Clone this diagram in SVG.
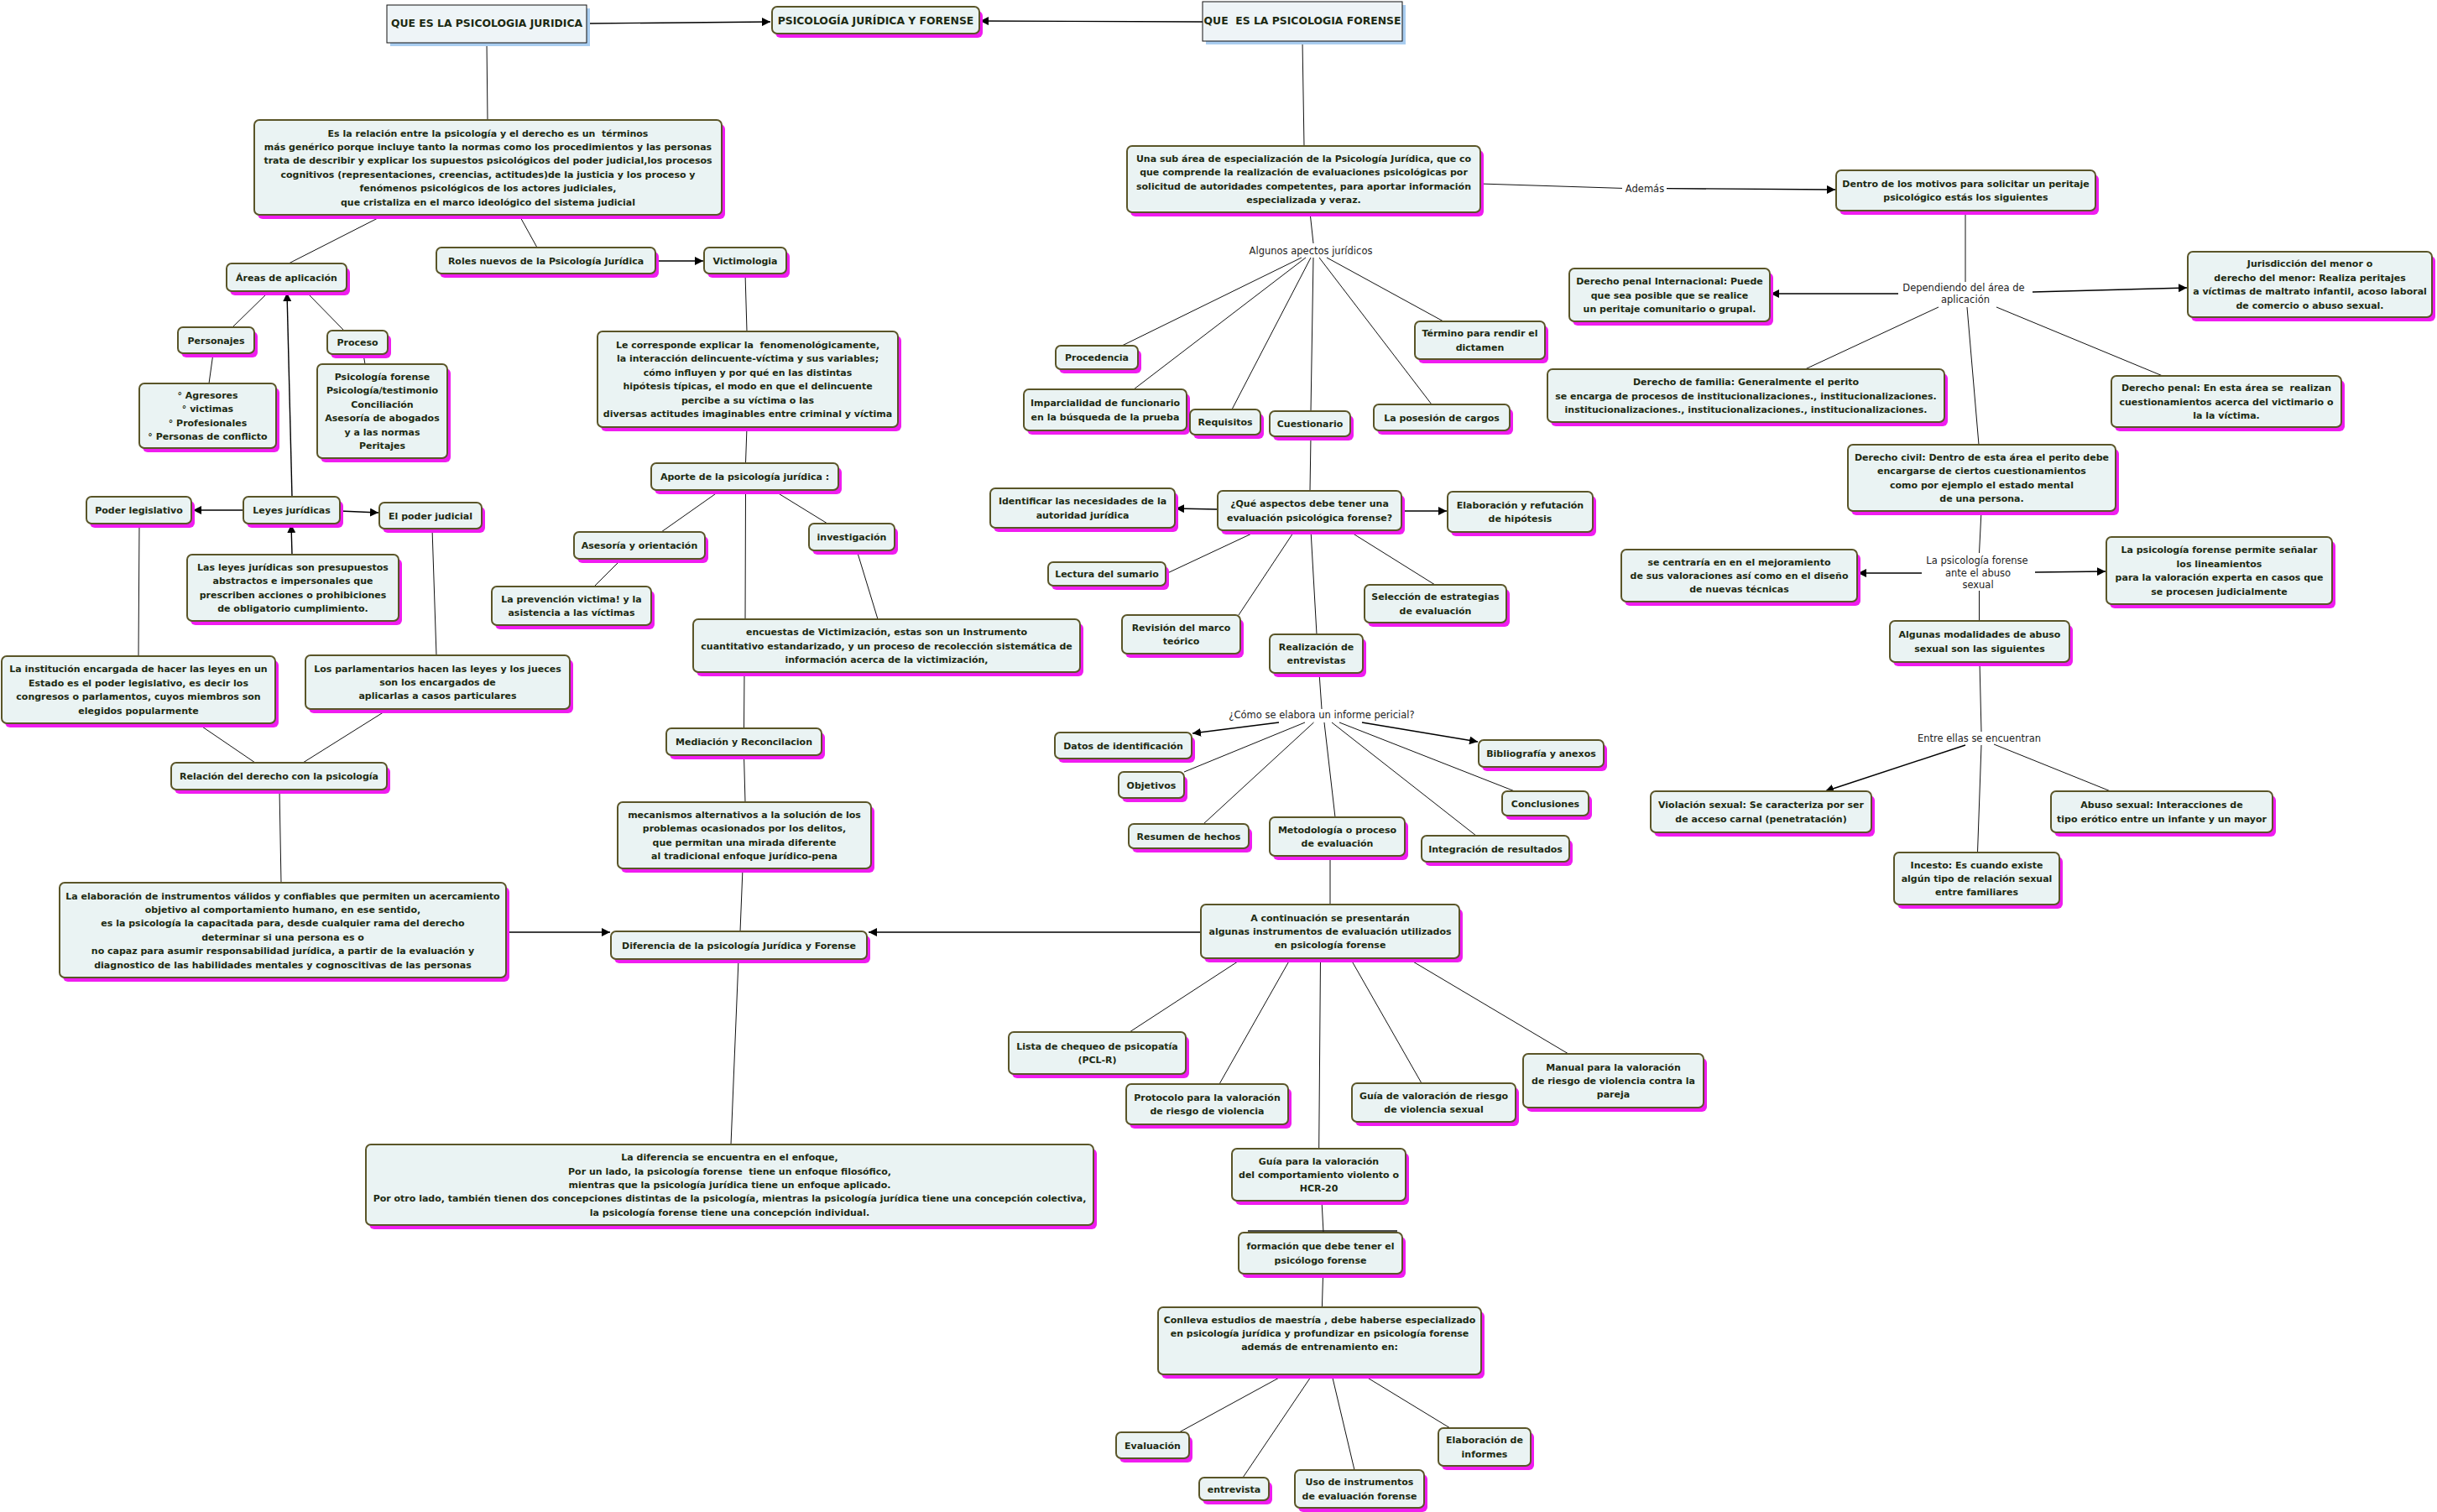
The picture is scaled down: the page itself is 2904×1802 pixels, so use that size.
<svg xmlns="http://www.w3.org/2000/svg" width="2904" height="1802" viewBox="0 0 2904 1802">
<style>
.nd{fill:#eaf3f3;stroke:#5a5528;stroke-width:2}
.sh{fill:#f01cf0}
.tb{fill:#eef4f7;stroke:#111;stroke-width:1}
.tbs{fill:#a9cdf0}
.t{font-family:"DejaVu Sans",Verdana,sans-serif;font-weight:bold;font-size:11px;fill:#1c2a12;text-anchor:middle}
.tt{font-size:12.4px}
.lb{font-family:"DejaVu Sans",Verdana,sans-serif;font-size:11.5px;fill:#222;text-anchor:middle}
.c{stroke:#111;stroke-width:1;fill:none}
.a{stroke:#000;stroke-width:1.4;fill:none;marker-end:url(#ah)}
</style>
<defs>
<marker id="ah" markerUnits="userSpaceOnUse" markerWidth="12" markerHeight="10" refX="10" refY="5" orient="auto"><path d="M0,0 L10,5 L0,10 Z" fill="#000"/></marker>
</defs>
<rect x="0" y="0" width="2904" height="1802" fill="#ffffff"/>
<g id="connectors">
<path class="a" d="M700,28 L918,26"/>
<path class="c" d="M580,51 L581,143"/>
<path class="c" d="M456,257 L344,314"/>
<path class="c" d="M619,257 L640,295"/>
<path class="a" d="M782,311 L838,311"/>
<path class="c" d="M320,348 L277,390"/>
<path class="c" d="M365,348 L410,394"/>
<path class="c" d="M254,421 L249,457"/>
<path class="c" d="M433,422 L435,434"/>
<path class="a" d="M348,592 L342,349"/>
<path class="a" d="M290,608 L230,608"/>
<path class="a" d="M405,609 L451,611"/>
<path class="a" d="M348,661 L347,625"/>
<path class="c" d="M166,624 L165,782"/>
<path class="c" d="M515,630 L520,781"/>
<path class="c" d="M235,862 L304,909"/>
<path class="c" d="M463,845 L361,909"/>
<path class="c" d="M333,941 L335,1052"/>
<path class="a" d="M603,1111 L727,1111"/>
<path class="c" d="M888,326 L890,395"/>
<path class="c" d="M890,509 L888.5,552"/>
<path class="c" d="M859,584 L788,634"/>
<path class="c" d="M741,666 L708,699"/>
<path class="c" d="M921,584 L986,624"/>
<path class="c" d="M888.5,584 L888,738"/>
<path class="c" d="M1021,656 L1046,738"/>
<path class="c" d="M887,801 L886.5,868"/>
<path class="c" d="M886.5,900 L888,956"/>
<path class="c" d="M885,1035 L882,1110"/>
<path class="c" d="M880,1143 L871,1364"/>
<path class="a" d="M1433,26 L1168,25"/>
<path class="c" d="M1552,49 L1554,174"/>
<path class="c" d="M1561,253 L1565,290"/>
<path class="c" d="M1551,307 L1337,412"/>
<path class="c" d="M1556,307 L1351,464"/>
<path class="c" d="M1562,307 L1468,488"/>
<path class="c" d="M1565,307 L1562,490"/>
<path class="c" d="M1572,307 L1706,482"/>
<path class="c" d="M1581,307 L1720,383"/>
<path class="c" d="M1562,520 L1561,585"/>
<path class="a" d="M1451,607 L1401,606"/>
<path class="a" d="M1670,609 L1724,609"/>
<path class="c" d="M1500,632 L1389,684"/>
<path class="c" d="M1543,632 L1476,733"/>
<path class="c" d="M1562,632 L1569,756"/>
<path class="c" d="M1606,632 L1710,697"/>
<path class="c" d="M1572,802 L1575,845"/>
<path class="a" d="M1524,861 L1421,874"/>
<path class="c" d="M1555,861 L1411,920"/>
<path class="c" d="M1565.5,861 L1434,982"/>
<path class="c" d="M1578,861 L1591,974"/>
<path class="c" d="M1587,861 L1759,996"/>
<path class="c" d="M1596,861 L1805,943"/>
<path class="a" d="M1623,861 L1761,884"/>
<path class="c" d="M1585,1020 L1585,1078"/>
<path class="a" d="M1431,1111 L1035,1111"/>
<path class="c" d="M1481,1142 L1346,1230"/>
<path class="c" d="M1538,1142 L1453,1292"/>
<path class="c" d="M1573.5,1142 L1571.7,1369"/>
<path class="c" d="M1609,1142 L1694,1291"/>
<path class="c" d="M1677,1142 L1869,1256"/>
<path class="c" d="M1575,1431 L1577,1469"/>
<path class="c" d="M1576.6,1518 L1575.4,1558"/>
<path class="c" d="M1531.5,1638 L1405,1707"/>
<path class="c" d="M1564,1638 L1481,1761"/>
<path class="c" d="M1587,1638 L1614,1752"/>
<path class="c" d="M1623,1638 L1728,1702"/>
<path class="c" d="M1764,219 L1933,224.4"/>
<path class="a" d="M1986,224.6 L2187,226"/>
<path class="c" d="M2342,251 L2342,336"/>
<path class="a" d="M2422,348 L2606,343"/>
<path class="a" d="M2262,350 L2110,350"/>
<path class="c" d="M2310,366 L2151,440"/>
<path class="c" d="M2344,366 L2358,530"/>
<path class="c" d="M2379,366 L2577,448"/>
<path class="c" d="M2361,609 L2358.5,659"/>
<path class="a" d="M2290,683 L2214,683"/>
<path class="a" d="M2425,682 L2509,681"/>
<path class="c" d="M2358.5,704 L2358.5,740"/>
<path class="c" d="M2359,789 L2361,872"/>
<path class="a" d="M2342,888 L2175,943"/>
<path class="c" d="M2376,887 L2515,943"/>
<path class="c" d="M2361,888 L2356.5,1016"/>
</g>
<g id="labels">
<text class="lb" x="1562" y="302.5">Algunos apectos jurídicos</text>
<text class="lb" x="1960" y="228.6">Además</text>
<text class="lb" x="2340" y="347">Dependiendo del área de</text>
<text class="lb" x="2342" y="361">aplicación</text>
<text class="lb" x="1575" y="855.5">¿Cómo se elabora un informe pericial?</text>
<text class="lb" x="2356" y="672">La psicología forense</text>
<text class="lb" x="2357" y="686.6">ante el abuso</text>
<text class="lb" x="2357" y="701">sexual</text>
<text class="lb" x="2358.5" y="884">Entre ellas se encuentran</text>
</g>
<g id="n-title-j"><rect class="tbs" x="465" y="10" width="238" height="45"/><rect class="tb" x="461" y="6" width="238" height="45"/><text class="t tt" x="580" y="31.5">QUE ES LA PSICOLOGIA JURIDICA</text></g>
<g id="n-central"><rect class="sh" x="924" y="13" width="247" height="32" rx="6"/><rect class="nd" x="920" y="8" width="247" height="32" rx="6"/><text class="t tt" x="1043.5" y="28.5">PSICOLOGÍA JURÍDICA Y FORENSE</text></g>
<g id="n-title-f"><rect class="tbs" x="1437" y="6" width="238" height="47"/><rect class="tb" x="1433" y="2" width="238" height="47"/><text class="t tt" x="1552" y="28.5" xml:space="preserve">QUE  ES LA PSICOLOGIA FORENSE</text></g>
<g id="n-def-j"><rect class="sh" x="307" y="148" width="557" height="113" rx="6"/><rect class="nd" x="303" y="143" width="557" height="113" rx="6"/><text class="t" y="162.5" xml:space="preserve"><tspan x="581.5">Es la relación entre la psicología y el derecho es un  términos</tspan><tspan x="581.5" dy="16.4">más genérico porque incluye tanto la normas como los procedimientos y las personas</tspan><tspan x="581.5" dy="16.4">trata de describir y explicar los supuestos psicológicos del poder judicial,los procesos</tspan><tspan x="581.5" dy="16.4">cognitivos (representaciones, creencias, actitudes)de la justicia y los proceso y</tspan><tspan x="581.5" dy="16.4">fenómenos psicológicos de los actores judiciales,</tspan><tspan x="581.5" dy="16.4">que cristaliza en el marco ideológico del sistema judicial</tspan></text></g>
<g id="n-areas"><rect class="sh" x="274" y="319" width="143" height="33" rx="6"/><rect class="nd" x="270" y="314" width="143" height="33" rx="6"/><text class="t" x="341.5" y="334.5">Áreas de aplicación</text></g>
<g id="n-roles"><rect class="sh" x="524" y="300" width="261" height="31" rx="6"/><rect class="nd" x="520" y="295" width="261" height="31" rx="6"/><text class="t" x="650.5" y="314.5">Roles nuevos de la Psicología Jurídica</text></g>
<g id="n-victimologia"><rect class="sh" x="843" y="300" width="98" height="31" rx="6"/><rect class="nd" x="839" y="295" width="98" height="31" rx="6"/><text class="t" x="888" y="314.5">Victimologia</text></g>
<g id="n-personajes"><rect class="sh" x="216" y="395" width="91" height="31" rx="6"/><rect class="nd" x="212" y="390" width="91" height="31" rx="6"/><text class="t" x="257.5" y="409.5">Personajes</text></g>
<g id="n-proceso"><rect class="sh" x="394" y="399" width="72" height="28" rx="6"/><rect class="nd" x="390" y="394" width="72" height="28" rx="6"/><text class="t" x="426" y="412">Proceso</text></g>
<g id="n-personas"><rect class="sh" x="170" y="462" width="163" height="77" rx="6"/><rect class="nd" x="166" y="457" width="163" height="77" rx="6"/><text class="t" y="474.9"><tspan x="247.5">° Agresores</tspan><tspan x="247.5" dy="16.4">° victimas</tspan><tspan x="247.5" dy="16.4">° Profesionales</tspan><tspan x="247.5" dy="16.4">° Personas de conflicto</tspan></text></g>
<g id="n-proc-list"><rect class="sh" x="382" y="439" width="155" height="112" rx="6"/><rect class="nd" x="378" y="434" width="155" height="112" rx="6"/><text class="t" y="453"><tspan x="455.5">Psicología forense</tspan><tspan x="455.5" dy="16.4">Psicología/testimonio</tspan><tspan x="455.5" dy="16.4">Conciliación</tspan><tspan x="455.5" dy="16.4">Asesoría de abogados</tspan><tspan x="455.5" dy="16.4">y a las normas</tspan><tspan x="455.5" dy="16.4">Peritajes</tspan></text></g>
<g id="n-poder-leg"><rect class="sh" x="107" y="597" width="125" height="32" rx="6"/><rect class="nd" x="103" y="592" width="125" height="32" rx="6"/><text class="t" x="165.5" y="612">Poder legislativo</text></g>
<g id="n-leyes"><rect class="sh" x="294" y="597" width="115" height="32" rx="6"/><rect class="nd" x="290" y="592" width="115" height="32" rx="6"/><text class="t" x="347.5" y="612">Leyes jurídicas</text></g>
<g id="n-poder-jud"><rect class="sh" x="456" y="604" width="122" height="31" rx="6"/><rect class="nd" x="452" y="599" width="122" height="31" rx="6"/><text class="t" x="513" y="618.5">El poder judicial</text></g>
<g id="n-las-leyes"><rect class="sh" x="227" y="666" width="252" height="79" rx="6"/><rect class="nd" x="223" y="661" width="252" height="79" rx="6"/><text class="t" y="679.9"><tspan x="349">Las leyes jurídicas son presupuestos</tspan><tspan x="349" dy="16.4">abstractos e impersonales que</tspan><tspan x="349" dy="16.4">prescriben acciones o prohibiciones</tspan><tspan x="349" dy="16.4">de obligatorio cumplimiento.</tspan></text></g>
<g id="n-institucion"><rect class="sh" x="6" y="787" width="326" height="80" rx="6"/><rect class="nd" x="2" y="782" width="326" height="80" rx="6"/><text class="t" y="801.4"><tspan x="165">La institución encargada de hacer las leyes en un</tspan><tspan x="165" dy="16.4">Estado es el poder legislativo, es decir los</tspan><tspan x="165" dy="16.4">congresos o parlamentos, cuyos miembros son</tspan><tspan x="165" dy="16.4">elegidos popularmente</tspan></text></g>
<g id="n-parlamentarios"><rect class="sh" x="368" y="786" width="315" height="64" rx="6"/><rect class="nd" x="364" y="781" width="315" height="64" rx="6"/><text class="t" y="800.6"><tspan x="521.5">Los parlamentarios hacen las leyes y los jueces</tspan><tspan x="521.5" dy="16.4">son los encargados de</tspan><tspan x="521.5" dy="16.4">aplicarlas a casos particulares</tspan></text></g>
<g id="n-relacion"><rect class="sh" x="208" y="914" width="257" height="32" rx="6"/><rect class="nd" x="204" y="909" width="257" height="32" rx="6"/><text class="t" x="332.5" y="929">Relación del derecho con la psicología</text></g>
<g id="n-elaboracion-j"><rect class="sh" x="75" y="1057" width="532" height="113" rx="6"/><rect class="nd" x="71" y="1052" width="532" height="113" rx="6"/><text class="t" y="1071.5"><tspan x="337">La elaboración de instrumentos válidos y confiables que permiten un acercamiento</tspan><tspan x="337" dy="16.4">objetivo al comportamiento humano, en ese sentido,</tspan><tspan x="337" dy="16.4">es la psicología la capacitada para, desde cualquier rama del derecho</tspan><tspan x="337" dy="16.4">determinar si una persona es o</tspan><tspan x="337" dy="16.4">no capaz para asumir responsabilidad jurídica, a partir de la evaluación y</tspan><tspan x="337" dy="16.4">diagnostico de las habilidades mentales y cognoscitivas de las personas</tspan></text></g>
<g id="n-le-corresponde"><rect class="sh" x="716" y="400" width="358" height="114" rx="6"/><rect class="nd" x="712" y="395" width="358" height="114" rx="6"/><text class="t" y="415" xml:space="preserve"><tspan x="891">Le corresponde explicar la  fenomenológicamente,</tspan><tspan x="891" dy="16.4">la interacción delincuente-víctima y sus variables;</tspan><tspan x="891" dy="16.4">cómo influyen y por qué en las distintas</tspan><tspan x="891" dy="16.4">hipótesis típicas, el modo en que el delincuente</tspan><tspan x="891" dy="16.4">percibe a su víctima o las</tspan><tspan x="891" dy="16.4">diversas actitudes imaginables entre criminal y víctima</tspan></text></g>
<g id="n-aporte"><rect class="sh" x="780" y="557" width="223" height="32" rx="6"/><rect class="nd" x="776" y="552" width="223" height="32" rx="6"/><text class="t" x="887.5" y="572">Aporte de la psicología jurídica :</text></g>
<g id="n-asesoria"><rect class="sh" x="688" y="639" width="156" height="32" rx="6"/><rect class="nd" x="684" y="634" width="156" height="32" rx="6"/><text class="t" x="762" y="654">Asesoría y orientación</text></g>
<g id="n-prevencion"><rect class="sh" x="590" y="704" width="190" height="46" rx="6"/><rect class="nd" x="586" y="699" width="190" height="46" rx="6"/><text class="t" y="717.8"><tspan x="681">La prevención victima! y la</tspan><tspan x="681" dy="16.4">asistencia a las víctimas</tspan></text></g>
<g id="n-investigacion"><rect class="sh" x="968" y="629" width="102" height="32" rx="6"/><rect class="nd" x="964" y="624" width="102" height="32" rx="6"/><text class="t" x="1015" y="644">investigación</text></g>
<g id="n-encuestas"><rect class="sh" x="830" y="743" width="461" height="63" rx="6"/><rect class="nd" x="826" y="738" width="461" height="63" rx="6"/><text class="t" y="757.1"><tspan x="1056.5">encuestas de Victimización, estas son un Instrumento</tspan><tspan x="1056.5" dy="16.4">cuantitativo estandarizado, y un proceso de recolección sistemática de</tspan><tspan x="1056.5" dy="16.4">información acerca de la victimización,</tspan></text></g>
<g id="n-mediacion"><rect class="sh" x="798" y="873" width="185" height="32" rx="6"/><rect class="nd" x="794" y="868" width="185" height="32" rx="6"/><text class="t" x="886.5" y="888">Mediación y Reconcilacion</text></g>
<g id="n-mecanismos"><rect class="sh" x="740" y="961" width="302" height="79" rx="6"/><rect class="nd" x="736" y="956" width="302" height="79" rx="6"/><text class="t" y="974.9"><tspan x="887">mecanismos alternativos a la solución de los</tspan><tspan x="887" dy="16.4">problemas ocasionados por los delitos,</tspan><tspan x="887" dy="16.4">que permitan una mirada diferente</tspan><tspan x="887" dy="16.4">al tradicional enfoque jurídico-pena</tspan></text></g>
<g id="n-diferencia"><rect class="sh" x="732" y="1115" width="305" height="33" rx="6"/><rect class="nd" x="728" y="1110" width="305" height="33" rx="6"/><text class="t" x="880.5" y="1130.5">Diferencia de la psicología Jurídica y Forense</text></g>
<g id="n-la-diferencia"><rect class="sh" x="440" y="1369" width="867" height="96" rx="6"/><rect class="nd" x="436" y="1364" width="867" height="96" rx="6"/><text class="t" y="1383.2" xml:space="preserve"><tspan x="869.5">La diferencia se encuentra en el enfoque,</tspan><tspan x="869.5" dy="16.4">Por un lado, la psicología forense  tiene un enfoque filosófico,</tspan><tspan x="869.5" dy="16.4">mientras que la psicología jurídica tiene un enfoque aplicado.</tspan><tspan x="869.5" dy="16.4">Por otro lado, también tienen dos concepciones distintas de la psicología, mientras la psicología jurídica tiene una concepción colectiva,</tspan><tspan x="869.5" dy="16.4">la psicología forense tiene una concepción individual.</tspan></text></g>
<g id="n-def-f"><rect class="sh" x="1347" y="179" width="421" height="79" rx="6"/><rect class="nd" x="1343" y="174" width="421" height="79" rx="6"/><text class="t" y="192.9"><tspan x="1553.5">Una sub área de especialización de la Psicología Jurídica, que co</tspan><tspan x="1553.5" dy="16.4">que comprende la realización de evaluaciones psicológicas por</tspan><tspan x="1553.5" dy="16.4">solicitud de autoridades competentes, para aportar información</tspan><tspan x="1553.5" dy="16.4">especializada y veraz.</tspan></text></g>
<g id="n-procedencia"><rect class="sh" x="1262" y="417" width="98" height="28" rx="6"/><rect class="nd" x="1258" y="412" width="98" height="28" rx="6"/><text class="t" x="1307" y="430">Procedencia</text></g>
<g id="n-imparcialidad"><rect class="sh" x="1224" y="469" width="194" height="49" rx="6"/><rect class="nd" x="1220" y="464" width="194" height="49" rx="6"/><text class="t" y="484.3"><tspan x="1317">Imparcialidad de funcionario</tspan><tspan x="1317" dy="16.4">en la búsqueda de la prueba</tspan></text></g>
<g id="n-requisitos"><rect class="sh" x="1422" y="493" width="84" height="30" rx="6"/><rect class="nd" x="1418" y="488" width="84" height="30" rx="6"/><text class="t" x="1460" y="507">Requisitos</text></g>
<g id="n-cuestionario"><rect class="sh" x="1517" y="495" width="96" height="30" rx="6"/><rect class="nd" x="1513" y="490" width="96" height="30" rx="6"/><text class="t" x="1561" y="509">Cuestionario</text></g>
<g id="n-posesion"><rect class="sh" x="1641" y="487" width="162" height="31" rx="6"/><rect class="nd" x="1637" y="482" width="162" height="31" rx="6"/><text class="t" x="1718" y="501.5">La posesión de cargos</text></g>
<g id="n-termino"><rect class="sh" x="1690" y="388" width="155" height="45" rx="6"/><rect class="nd" x="1686" y="383" width="155" height="45" rx="6"/><text class="t" y="401.3"><tspan x="1763.5">Término para rendir el</tspan><tspan x="1763.5" dy="16.4">dictamen</tspan></text></g>
<g id="n-que-aspectos"><rect class="sh" x="1455" y="590" width="219" height="47" rx="6"/><rect class="nd" x="1451" y="585" width="219" height="47" rx="6"/><text class="t" y="604.3"><tspan x="1560.5">¿Qué aspectos debe tener una</tspan><tspan x="1560.5" dy="16.4">evaluación psicológica forense?</tspan></text></g>
<g id="n-identificar"><rect class="sh" x="1184" y="587" width="220" height="47" rx="6"/><rect class="nd" x="1180" y="582" width="220" height="47" rx="6"/><text class="t" y="601.3"><tspan x="1290">Identificar las necesidades de la</tspan><tspan x="1290" dy="16.4">autoridad jurídica</tspan></text></g>
<g id="n-elab-hip"><rect class="sh" x="1729" y="591" width="173" height="48" rx="6"/><rect class="nd" x="1725" y="586" width="173" height="48" rx="6"/><text class="t" y="605.8"><tspan x="1811.5">Elaboración y refutación</tspan><tspan x="1811.5" dy="16.4">de hipótesis</tspan></text></g>
<g id="n-lectura"><rect class="sh" x="1253" y="675" width="140" height="28" rx="6"/><rect class="nd" x="1249" y="670" width="140" height="28" rx="6"/><text class="t" x="1319" y="688">Lectura del sumario</text></g>
<g id="n-revision"><rect class="sh" x="1341" y="738" width="141" height="46" rx="6"/><rect class="nd" x="1337" y="733" width="141" height="46" rx="6"/><text class="t" y="751.8"><tspan x="1407.5">Revisión del marco</tspan><tspan x="1407.5" dy="16.4">teórico</tspan></text></g>
<g id="n-realizacion"><rect class="sh" x="1517" y="761" width="111" height="46" rx="6"/><rect class="nd" x="1513" y="756" width="111" height="46" rx="6"/><text class="t" y="774.8"><tspan x="1568.5">Realización de</tspan><tspan x="1568.5" dy="16.4">entrevistas</tspan></text></g>
<g id="n-seleccion"><rect class="sh" x="1630" y="702" width="169" height="45" rx="6"/><rect class="nd" x="1626" y="697" width="169" height="45" rx="6"/><text class="t" y="715.3"><tspan x="1710.5">Selección de estrategias</tspan><tspan x="1710.5" dy="16.4">de evaluación</tspan></text></g>
<g id="n-datos"><rect class="sh" x="1261" y="878" width="163" height="31" rx="6"/><rect class="nd" x="1257" y="873" width="163" height="31" rx="6"/><text class="t" x="1338.5" y="892.5">Datos de identificación</text></g>
<g id="n-objetivos"><rect class="sh" x="1337" y="925" width="78" height="31" rx="6"/><rect class="nd" x="1333" y="920" width="78" height="31" rx="6"/><text class="t" x="1372" y="939.5">Objetivos</text></g>
<g id="n-resumen"><rect class="sh" x="1349" y="987" width="143" height="29" rx="6"/><rect class="nd" x="1345" y="982" width="143" height="29" rx="6"/><text class="t" x="1416.5" y="1000.5">Resumen de hechos</text></g>
<g id="n-metodologia"><rect class="sh" x="1517" y="979" width="161" height="46" rx="6"/><rect class="nd" x="1513" y="974" width="161" height="46" rx="6"/><text class="t" y="992.8"><tspan x="1593.5">Metodología o proceso</tspan><tspan x="1593.5" dy="16.4">de evaluación</tspan></text></g>
<g id="n-integracion"><rect class="sh" x="1698" y="1001" width="176" height="31" rx="6"/><rect class="nd" x="1694" y="996" width="176" height="31" rx="6"/><text class="t" x="1782" y="1015.5">Integración de resultados</text></g>
<g id="n-conclusiones"><rect class="sh" x="1794" y="948" width="103" height="29" rx="6"/><rect class="nd" x="1790" y="943" width="103" height="29" rx="6"/><text class="t" x="1841.5" y="961.5">Conclusiones</text></g>
<g id="n-bibliografia"><rect class="sh" x="1766" y="887" width="149" height="32" rx="6"/><rect class="nd" x="1762" y="882" width="149" height="32" rx="6"/><text class="t" x="1836.5" y="902">Bibliografía y anexos</text></g>
<g id="n-continuacion"><rect class="sh" x="1435" y="1083" width="308" height="64" rx="6"/><rect class="nd" x="1431" y="1078" width="308" height="64" rx="6"/><text class="t" y="1097.6"><tspan x="1585">A continuación se presentarán</tspan><tspan x="1585" dy="16.4">algunas instrumentos de evaluación utilizados</tspan><tspan x="1585" dy="16.4">en psicología forense</tspan></text></g>
<g id="n-lista"><rect class="sh" x="1206" y="1235" width="211" height="50" rx="6"/><rect class="nd" x="1202" y="1230" width="211" height="50" rx="6"/><text class="t" y="1250.8"><tspan x="1307.5">Lista de chequeo de psicopatía</tspan><tspan x="1307.5" dy="16.4">(PCL-R)</tspan></text></g>
<g id="n-protocolo"><rect class="sh" x="1346" y="1297" width="193" height="48" rx="6"/><rect class="nd" x="1342" y="1292" width="193" height="48" rx="6"/><text class="t" y="1311.8"><tspan x="1438.5">Protocolo para la valoración</tspan><tspan x="1438.5" dy="16.4">de riesgo de violencia</tspan></text></g>
<g id="n-guia-sexual"><rect class="sh" x="1615" y="1296" width="195" height="46" rx="6"/><rect class="nd" x="1611" y="1291" width="195" height="46" rx="6"/><text class="t" y="1309.8"><tspan x="1708.5">Guía de valoración de riesgo</tspan><tspan x="1708.5" dy="16.4">de violencia sexual</tspan></text></g>
<g id="n-manual"><rect class="sh" x="1819" y="1261" width="215" height="64" rx="6"/><rect class="nd" x="1815" y="1256" width="215" height="64" rx="6"/><text class="t" y="1275.6"><tspan x="1922.5">Manual para la valoración</tspan><tspan x="1922.5" dy="16.4">de riesgo de violencia contra la</tspan><tspan x="1922.5" dy="16.4">pareja</tspan></text></g>
<g id="n-hcr"><rect class="sh" x="1472" y="1374" width="207" height="62" rx="6"/><rect class="nd" x="1468" y="1369" width="207" height="62" rx="6"/><text class="t" y="1387.6"><tspan x="1571.5">Guía para la valoración</tspan><tspan x="1571.5" dy="16.4">del comportamiento violento o</tspan><tspan x="1571.5" dy="16.4">HCR-20</tspan></text></g>
<g id="n-formacion"><rect class="sh" x="1480" y="1474" width="195" height="49" rx="6"/><rect class="nd" x="1476" y="1469" width="195" height="49" rx="6"/><path d="M1487,1467 L1665,1467" stroke="#111" stroke-width="1.5"/><text class="t" y="1489.3"><tspan x="1573.5">formación que debe tener el</tspan><tspan x="1573.5" dy="16.4">psicólogo forense</tspan></text></g>
<g id="n-conlleva"><rect class="sh" x="1384" y="1563" width="385" height="80" rx="6"/><rect class="nd" x="1380" y="1558" width="385" height="80" rx="6"/><text class="t" y="1576.5"><tspan x="1572.5">Conlleva estudios de maestría , debe haberse especializado</tspan><tspan x="1572.5" dy="16.4">en psicología jurídica y profundizar en psicología forense</tspan><tspan x="1572.5" dy="16.4">además de entrenamiento en:</tspan></text></g>
<g id="n-evaluacion"><rect class="sh" x="1334" y="1712" width="87" height="31" rx="6"/><rect class="nd" x="1330" y="1707" width="87" height="31" rx="6"/><text class="t" x="1373.5" y="1726.5">Evaluación</text></g>
<g id="n-entrevista"><rect class="sh" x="1433" y="1766" width="83" height="27" rx="6"/><rect class="nd" x="1429" y="1761" width="83" height="27" rx="6"/><text class="t" x="1470.5" y="1778.5">entrevista</text></g>
<g id="n-uso"><rect class="sh" x="1547" y="1757" width="154" height="45" rx="6"/><rect class="nd" x="1543" y="1752" width="154" height="45" rx="6"/><text class="t" y="1770.3"><tspan x="1620">Uso de instrumentos</tspan><tspan x="1620" dy="16.4">de evaluación forense</tspan></text></g>
<g id="n-elab-inf"><rect class="sh" x="1718" y="1707" width="110" height="45" rx="6"/><rect class="nd" x="1714" y="1702" width="110" height="45" rx="6"/><text class="t" y="1720.3"><tspan x="1769">Elaboración de</tspan><tspan x="1769" dy="16.4">informes</tspan></text></g>
<g id="n-dentro"><rect class="sh" x="2192" y="208" width="309" height="48" rx="6"/><rect class="nd" x="2188" y="203" width="309" height="48" rx="6"/><text class="t" y="222.8"><tspan x="2342.5">Dentro de los motivos para solicitar un peritaje</tspan><tspan x="2342.5" dy="16.4">psicológico estás los siguientes</tspan></text></g>
<g id="n-jurisdiccion"><rect class="sh" x="2611" y="305" width="291" height="78" rx="6"/><rect class="nd" x="2607" y="300" width="291" height="78" rx="6"/><text class="t" y="318.4"><tspan x="2752.5">Jurisdicción del menor o</tspan><tspan x="2752.5" dy="16.4">derecho del menor: Realiza peritajes</tspan><tspan x="2752.5" dy="16.4">a víctimas de maltrato infantil, acoso laboral</tspan><tspan x="2752.5" dy="16.4">de comercio o abuso sexual.</tspan></text></g>
<g id="n-penal-int"><rect class="sh" x="1874" y="325" width="239" height="63" rx="6"/><rect class="nd" x="1870" y="320" width="239" height="63" rx="6"/><text class="t" y="339.1"><tspan x="1989.5">Derecho penal Internacional: Puede</tspan><tspan x="1989.5" dy="16.4">que sea posible que se realice</tspan><tspan x="1989.5" dy="16.4">un peritaje comunitario o grupal.</tspan></text></g>
<g id="n-familia"><rect class="sh" x="1848" y="445" width="473" height="63" rx="6"/><rect class="nd" x="1844" y="440" width="473" height="63" rx="6"/><text class="t" y="459.1"><tspan x="2080.5">Derecho de familia: Generalmente el perito</tspan><tspan x="2080.5" dy="16.4">se encarga de procesos de institucionalizaciones., institucionalizaciones.</tspan><tspan x="2080.5" dy="16.4">institucionalizaciones., institucionalizaciones., institucionalizaciones.</tspan></text></g>
<g id="n-civil"><rect class="sh" x="2206" y="535" width="319" height="79" rx="6"/><rect class="nd" x="2202" y="530" width="319" height="79" rx="6"/><text class="t" y="548.9"><tspan x="2361.5">Derecho civil: Dentro de esta área el perito debe</tspan><tspan x="2361.5" dy="16.4">encargarse de ciertos cuestionamientos</tspan><tspan x="2361.5" dy="16.4">como por ejemplo el estado mental</tspan><tspan x="2361.5" dy="16.4">de una persona.</tspan></text></g>
<g id="n-penal"><rect class="sh" x="2520" y="453" width="274" height="61" rx="6"/><rect class="nd" x="2516" y="448" width="274" height="61" rx="6"/><text class="t" y="466.1" xml:space="preserve"><tspan x="2653">Derecho penal: En esta área se  realizan</tspan><tspan x="2653" dy="16.4">cuestionamientos acerca del victimario o</tspan><tspan x="2653" dy="16.4">la la víctima.</tspan></text></g>
<g id="n-centraria"><rect class="sh" x="1936" y="660" width="281" height="62" rx="6"/><rect class="nd" x="1932" y="655" width="281" height="62" rx="6"/><text class="t" y="673.6"><tspan x="2072.5">se centraría en en el mejoramiento</tspan><tspan x="2072.5" dy="16.4">de sus valoraciones así como en el diseño</tspan><tspan x="2072.5" dy="16.4">de nuevas técnicas</tspan></text></g>
<g id="n-permite"><rect class="sh" x="2514" y="645" width="269" height="80" rx="6"/><rect class="nd" x="2510" y="640" width="269" height="80" rx="6"/><text class="t" y="659.4"><tspan x="2644.5">La psicología forense permite señalar</tspan><tspan x="2644.5" dy="16.4">los lineamientos</tspan><tspan x="2644.5" dy="16.4">para la valoración experta en casos que</tspan><tspan x="2644.5" dy="16.4">se procesen judicialmente</tspan></text></g>
<g id="n-modalidades"><rect class="sh" x="2256" y="745" width="214" height="49" rx="6"/><rect class="nd" x="2252" y="740" width="214" height="49" rx="6"/><text class="t" y="760.3"><tspan x="2359">Algunas modalidades de abuso</tspan><tspan x="2359" dy="16.4">sexual son las siguientes</tspan></text></g>
<g id="n-violacion"><rect class="sh" x="1971" y="948" width="263" height="49" rx="6"/><rect class="nd" x="1967" y="943" width="263" height="49" rx="6"/><text class="t" y="963.3"><tspan x="2098.5">Violación sexual: Se caracteriza por ser</tspan><tspan x="2098.5" dy="16.4">de acceso carnal (penetratación)</tspan></text></g>
<g id="n-abuso"><rect class="sh" x="2448" y="948" width="264" height="49" rx="6"/><rect class="nd" x="2444" y="943" width="264" height="49" rx="6"/><text class="t" y="963.3"><tspan x="2576">Abuso sexual: Interacciones de</tspan><tspan x="2576" dy="16.4">tipo erótico entre un infante y un mayor</tspan></text></g>
<g id="n-incesto"><rect class="sh" x="2261" y="1021" width="197" height="62" rx="6"/><rect class="nd" x="2257" y="1016" width="197" height="62" rx="6"/><text class="t" y="1034.6"><tspan x="2355.5">Incesto: Es cuando existe</tspan><tspan x="2355.5" dy="16.4">algún tipo de relación sexual</tspan><tspan x="2355.5" dy="16.4">entre familiares</tspan></text></g>
</svg>
